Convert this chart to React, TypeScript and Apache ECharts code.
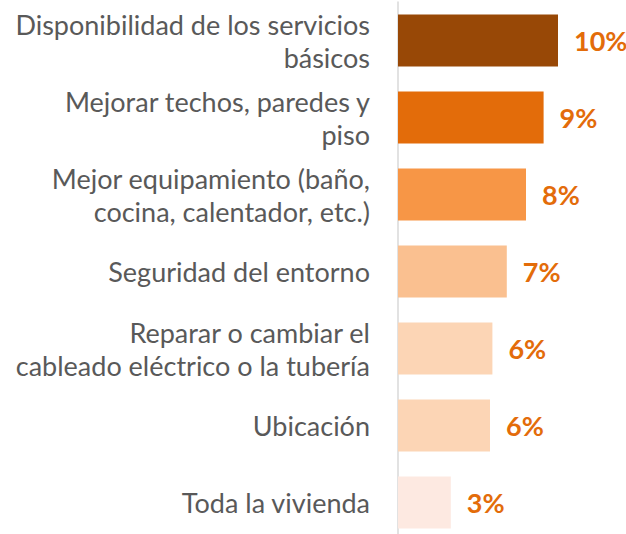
import React, { useEffect, useRef } from "react";
import * as echarts from "echarts";

const categories: string[] = [
  "Disponibilidad de los servicios\nbásicos",
  "Mejorar techos, paredes y\npiso",
  "Mejor equipamiento (baño,\ncocina, calentador, etc.)",
  "Seguridad del entorno",
  "Reparar o cambiar el\ncableado eléctrico o la tubería",
  "Ubicación",
  "Toda la vivienda",
];
const values: number[] = [10.0, 9.1, 8.0, 6.8, 5.9, 5.75, 3.3];
const barColors: string[] = [
  "#984806",
  "#E36C0A",
  "#F79646",
  "#FAC090",
  "#FCD5B5",
  "#FCD5B5",
  "#FDE9E1",
];

export default function App() {
  const ref = useRef<HTMLDivElement>(null);
  useEffect(() => {
    if (!ref.current) return;
    const chart = echarts.init(ref.current, undefined, { renderer: "svg" });
    chart.setOption({
      animation: false,
      backgroundColor: "#ffffff",
      grid: { left: 398, top: 2, width: 160, bottom: 0 },
      xAxis: {
        type: "value",
        min: 0,
        max: 10,
        show: false,
      },
      yAxis: {
        type: "category",
        inverse: true,
        data: categories,
        axisLine: { show: true, lineStyle: { color: "#D9D9D9", width: 1.5 } },
        axisTick: { show: false },
        axisLabel: {
          margin: 28,
          color: "#595959",
          fontFamily: "Lato",
          fontSize: 27,
          lineHeight: 33,
          align: "right",
        },
      },
      series: [
        {
          type: "bar",
          data: values.map((v, i) => ({ value: v, itemStyle: { color: barColors[i] } })),
          barWidth: 52,
          label: {
            show: true,
            position: "right",
            distance: 16,
            color: "#E36C0A",
            fontFamily: "Lato",
            fontWeight: "bold",
            fontSize: 27,
            formatter: (p: any) => Math.round(p.value) + "%",
          },
        },
      ],
    });
    return () => chart.dispose();
  }, []);
  return (
    <div
      style={{
        position: "absolute",
        left: 0,
        top: 0,
        width: 626,
        height: 534,
        overflow: "hidden",
        background: "#ffffff",
      }}
    >
      <div ref={ref} style={{ width: 626, height: 541 }} />
    </div>
  );
}
